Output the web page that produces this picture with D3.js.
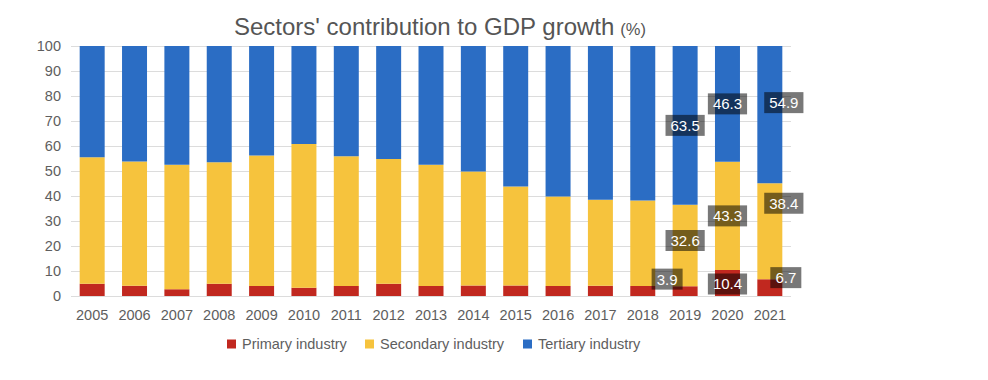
<!DOCTYPE html>
<html>
<head>
<meta charset="utf-8">
<script src="https://cdn.jsdelivr.net/npm/d3@7/dist/d3.min.js"></script>
<style>
  html, body { margin: 0; padding: 0; background: #fff; }
  svg { display: block; font-family: "Liberation Sans", Arial, Helvetica, sans-serif; }
</style>
</head>
<body>
<svg id="chart" width="988" height="380"></svg>
<script>
// ---- Data ----
const years = ["2005","2006","2007","2008","2009","2010","2011","2012","2013","2014","2015","2016","2017","2018","2019","2020","2021"];
const primary   = [4.9, 4.1, 2.7, 4.9, 4.0, 3.3, 4.0, 4.9, 4.0, 4.2, 4.2, 4.0, 4.1, 4.0, 3.9, 10.4, 6.7];
const secondary = [50.6, 49.7, 49.8, 48.6, 52.2, 57.5, 51.9, 49.9, 48.5, 45.6, 39.6, 35.8, 34.4, 34.2, 32.6, 43.3, 38.4];
const tertiary  = [44.5, 46.2, 47.5, 46.5, 43.8, 39.2, 44.1, 45.2, 47.5, 50.2, 56.2, 60.2, 61.5, 61.8, 63.5, 46.3, 54.9];
const seriesNames = ["Primary industry", "Secondary industry", "Tertiary industry"];
const yTicks = [0, 10, 20, 30, 40, 50, 60, 70, 80, 90, 100];
const labeledYears = ["2019", "2020", "2021"];

// ---- Style / layout ----
const colors = ["#c1281f", "#f6c33d", "#2b6dc4"];
const keys = ["primary", "secondary", "tertiary"];
// manual nudges of value labels (px), keyed by year + series index
const labelNudge = {
  "2019-0": [-18, -12], "2019-1": [0, -5], "2019-2": [0, 0],
  "2020-0": [0, 1], "2020-1": [0, 0], "2020-2": [0, 0],
  "2021-0": [16, -10], "2021-1": [14, -28], "2021-2": [14, -12]
};

const table = years.map((y, i) => ({ year: y, primary: primary[i], secondary: secondary[i], tertiary: tertiary[i] }));

const svg = d3.select("#chart");

const x = d3.scaleBand().domain(years).range([71, 791]).paddingInner(0.41).paddingOuter(0.205);
const y = d3.scaleLinear().domain([0, 100]).range([296, 46]);

// gridlines + y labels
const yAxis = d3.axisLeft(y).tickValues(yTicks).tickSize(-(791 - 71)).tickPadding(10).tickFormat(d3.format("d"));
const gy = svg.append("g").attr("transform", "translate(71,0)").call(yAxis);
gy.select(".domain").remove();
gy.selectAll(".tick line").attr("stroke", "#dcdcdc").attr("stroke-width", 1);
gy.selectAll(".tick text").attr("fill", "#5e5e5e").attr("font-size", 14.5).attr("x", -10);

// x labels
const xAxis = d3.axisBottom(x).tickSize(0).tickPadding(14);
const gx = svg.append("g").attr("transform", "translate(0,296)").call(xAxis);
gx.select(".domain").remove();
gx.selectAll(".tick text").attr("fill", "#5e5e5e").attr("font-size", 14.5);

// stacked bars
const stacked = d3.stack().keys(keys)(table);
svg.append("g").selectAll("g").data(stacked).join("g")
  .attr("fill", (d, i) => colors[i])
  .selectAll("rect").data(d => d).join("rect")
  .attr("x", d => x(d.data.year))
  .attr("width", x.bandwidth())
  .attr("y", d => y(d[1]))
  .attr("height", d => y(d[0]) - y(d[1]));

// value labels
const lblG = svg.append("g");
stacked.forEach((layer, si) => {
  layer.forEach(d => {
    if (!labeledYears.includes(d.data.year)) return;
    const v = d.data[keys[si]];
    const nudge = labelNudge[d.data.year + "-" + si] || [0, 0];
    const cx = x(d.data.year) + x.bandwidth() / 2 + nudge[0];
    const cy = y((d[0] + d[1]) / 2) + nudge[1];
    const g = lblG.append("g").attr("transform", `translate(${cx},${cy})`);
    const t = g.append("text").attr("text-anchor", "middle").attr("dy", "0.36em")
      .attr("fill", "#fff").attr("font-size", 15).text(d3.format(".1f")(v));
    const w = Math.max(t.node().getComputedTextLength() + 10, 31);
    g.insert("rect", "text").attr("x", -w / 2).attr("y", -10.5).attr("width", w).attr("height", 21)
      .attr("fill", "rgba(0,0,0,0.53)");
  });
});

// title
const title = svg.append("text").attr("x", 234).attr("y", 35).attr("fill", "#555").attr("font-size", 24);
title.append("tspan").text("Sectors' contribution to GDP growth");
title.append("tspan").attr("font-size", 16.5).attr("dx", 6).text("(%)");

// legend
const legendX = [227, 365, 523];
const lg = svg.append("g");
seriesNames.forEach((name, i) => {
  lg.append("rect").attr("x", legendX[i]).attr("y", 339.5).attr("width", 9).attr("height", 9).attr("fill", colors[i]);
  lg.append("text").attr("x", legendX[i] + 15).attr("y", 349).attr("fill", "#5e5e5e").attr("font-size", 14.5).text(name);
});
</script>
</body>
</html>
